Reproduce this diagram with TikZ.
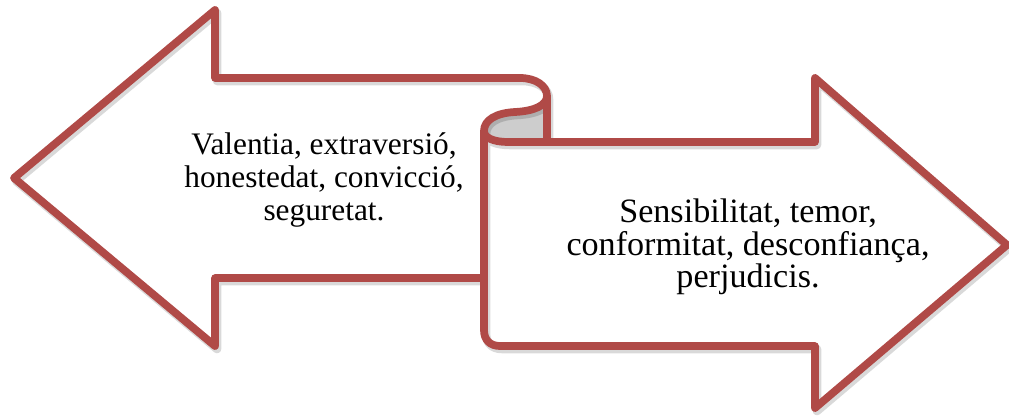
\documentclass[tikz,border=0pt]{standalone}
\usepackage{fontspec}
\setmainfont{Liberation Serif}
\definecolor{arrred}{RGB}{176,74,71}
\definecolor{curlgray}{RGB}{205,205,205}
\newcommand\outlinepath{(484,278) -- (215,278) -- (215,346) -- (14,178) -- (215,10) -- (215,78) -- (520,78)
  .. controls (536,78) and (547,86) .. (547,96)
  .. controls (547,105) and (535,111) .. (515,112)
  .. controls (496,113) and (484,120) .. (484,131)
  -- (484,330) .. controls (484,340) and (490,346) .. (500,346)
  -- (815,346) -- (815,408) -- (1007,245) -- (815,78) -- (815,142)
  -- (508,142) .. controls (494,142) and (484,138) .. (484,131)
  (547,96) -- (547,142)}
\begin{document}
\begin{tikzpicture}[x=0.75pt,y=-0.75pt,
  outl/.style={draw=arrred,line width=5.8pt,line join=round,line cap=round},
  shadowline/.style={draw=black,opacity=0.15,line width=6.4pt,line join=round,line cap=round},
  lbl/.style={align=center,inner sep=0pt,font=\fontsize{23.5}{24.4}\selectfont},
  lblwide/.style={lbl,font=\fontsize{25.6}{24.4}\selectfont}]
\useasboundingbox (0,0) rectangle (1009,417);
% curl fill
\fill[curlgray] (547,96) .. controls (547,105) and (535,111) .. (515,112)
  .. controls (496,113) and (484,120) .. (484,131)
  .. controls (484,138) and (494,142) .. (508,142) -- (547,142) -- cycle;
% shadow
\begin{scope}[shift={(2,3)}]
\draw[shadowline] \outlinepath;
\end{scope}
% outline
\draw[outl] \outlinepath;
% texts
\node[lbl] (lefttext) at (324,180) {Valentia, extraversió,\\honestedat, convicció,\\seguretat.};
\node[lblwide] (righttext) at (748,247) {Sensibilitat, temor,\\conformitat, desconfiança,\\perjudicis.};
\end{tikzpicture}
\end{document}
